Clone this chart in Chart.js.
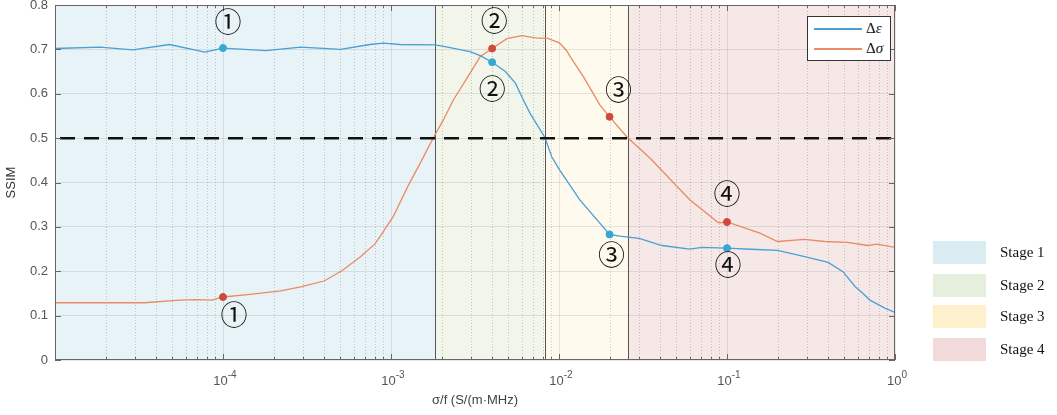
<!DOCTYPE html>
<html>
<head>
<meta charset="utf-8">
<script src="https://cdn.jsdelivr.net/npm/chart.js@4.4.1/dist/chart.umd.min.js"></script>
<style>
  html, body { margin: 0; padding: 0; background: #fff; }
  #wrap { position: relative; width: 1057px; height: 415px; }
  .lg { position: absolute; font-family: 'Liberation Serif', 'Times New Roman', serif; color: #111; }
  #seriesLegend { left: 807px; top: 16px; width: 84px; height: 45px; border: 1px solid #333; background: #fff; box-sizing: border-box; }
  .row { position: absolute; left: 6px; height: 20px; font-size: 15px; line-height: 20px; }
  .row span.ln { position: absolute; left: 0; top: 10px; width: 48px; height: 2px; }
  .row span.tx { position: absolute; left: 52px; top: 0; white-space: nowrap; }
  .sw { position: absolute; left: 933px; width: 53px; height: 23px; }
  .st { position: absolute; left: 1000px; font-size: 15px; line-height: 23px; }
</style>
</head>
<body>
<div id="wrap">
  <canvas id="ssimChart"></canvas>
  <div id="seriesLegend" class="lg">
    <div class="row" style="top:1px"><span class="ln" style="background:#4a9fd4"></span><span class="tx">Δ<i>ε</i></span></div>
    <div class="row" style="top:21px"><span class="ln" style="background:#ea8a62"></span><span class="tx">Δ<i>σ</i></span></div>
  </div>
  <div class="lg sw" style="top:241px;background:#daecf2"></div><div class="lg st" style="top:241px">Stage 1</div>
  <div class="lg sw" style="top:274px;background:#e6efdd"></div><div class="lg st" style="top:274px">Stage 2</div>
  <div class="lg sw" style="top:305px;background:#fdf0cc"></div><div class="lg st" style="top:305px">Stage 3</div>
  <div class="lg sw" style="top:338px;background:#f2dada"></div><div class="lg st" style="top:338px">Stage 4</div>
</div>
<script>
// delta epsilon curve
const epsX = [1e-5, 1.85e-5, 2.9e-5, 4.8e-5, 7.8e-5, 1e-4, 1.8e-4, 2.9e-4, 5e-4, 7.5e-4, 9e-4, 1.13e-3,
  1.83e-3, 2.1e-3, 2.95e-3, 3.4e-3, 4e-3, 4.8e-3, 5.5e-3, 6.1e-3, 6.7e-3, 8.26e-3, 9.05e-3, 1.01e-2,
  1.33e-2, 2e-2, 2.3e-2, 3e-2, 4.1e-2, 6e-2, 7.1e-2, 0.1, 0.15, 0.2, 0.29, 0.4, 0.49, 0.58, 0.64, 0.71, 0.87, 1];
const epsY = [0.702, 0.705, 0.699, 0.711, 0.694, 0.703, 0.697, 0.705, 0.700, 0.711, 0.714, 0.711,
  0.710, 0.706, 0.695, 0.686, 0.671, 0.650, 0.624, 0.588, 0.557, 0.501, 0.458, 0.428,
  0.361, 0.283, 0.279, 0.274, 0.258, 0.250, 0.254, 0.252, 0.249, 0.247, 0.233, 0.220, 0.199, 0.165, 0.151, 0.135, 0.117, 0.107];

// delta sigma curve
const sigX = [1e-5, 3.4e-5, 5.5e-5, 7e-5, 8.6e-5, 1e-4, 1.45e-4, 2.2e-4, 2.9e-4, 4e-4, 5.1e-4, 6.5e-4,
  8e-4, 8.6e-4, 1.03e-3, 1.27e-3, 1.49e-3, 1.8e-3, 2.05e-3, 2.35e-3, 2.95e-3, 3.4e-3, 4e-3, 4.9e-3,
  6e-3, 7.2e-3, 8.6e-3, 1.01e-2, 1.11e-2, 1.16e-2, 1.4e-2, 1.75e-2, 2e-2, 2.53e-2, 3.5e-2, 6e-2,
  8.9e-2, 0.1, 0.157, 0.2, 0.29, 0.38, 0.52, 0.69, 0.78, 1];
const sigY = [0.129, 0.129, 0.135, 0.136, 0.135, 0.142, 0.148, 0.156, 0.165, 0.178, 0.201, 0.231,
  0.261, 0.278, 0.323, 0.394, 0.443, 0.503, 0.541, 0.586, 0.646, 0.684, 0.702, 0.724,
  0.731, 0.726, 0.725, 0.714, 0.697, 0.685, 0.638, 0.575, 0.548, 0.503, 0.454, 0.361,
  0.309, 0.311, 0.286, 0.267, 0.272, 0.267, 0.265, 0.258, 0.261, 0.254];

// marked points
const markX = [1e-4, 4e-3, 2e-2, 0.1];
const markEps = [0.703, 0.671, 0.283, 0.252];
const markSig = [0.142, 0.702, 0.548, 0.311];
const markLabels = ['①', '②', '③', '④'];

const thresholdY = 0.5;
const stageBounds = [1e-5, 1.83e-3, 8.2e-3, 2.57e-2, 1];
const xDecades = [1e-4, 1e-3, 1e-2, 1e-1, 1];
const xDecadeExp = ['-4', '-3', '-2', '-1', '0'];

const colors = {
    eps: '#4a9fd4',
    sig: '#ea8a62',
    epsDot: '#35a8d4',
    sigDot: '#d04a3c',
    stages: ['#e8f3f7', '#f1f5ea', '#fefaee', '#f7e8e8'],
    grid: 'rgba(0,0,0,0.09)',
    minor: 'rgba(0,0,0,0.2)',
    axis: '#666',
    text: '#555',
};

// label offsets in px from the marker (dx, dy)
const epsLabelOff = [[5, -23], [0, 30], [2, 23], [1, 20]];
const sigLabelOff = [[11, 21], [2, -25], [9, -24], [0, -25]];

const xTickValues = [];
for (let e = -5; e < 0; e++) {
    for (let m = 1; m < 10; m++) xTickValues.push(m * Math.pow(10, e));
}
xTickValues.push(1);

const isMajor = v => Math.abs(Math.log10(v) - Math.round(Math.log10(v))) < 1e-6;
const pts = (xs, ys) => xs.map((x, i) => ({ x: x, y: ys[i] }));

const stagePlugin = {
    id: 'stages',
    beforeDraw(chart) {
        const { ctx, chartArea: a, scales: { x } } = chart;
        ctx.save();
        for (let i = 0; i < colors.stages.length; i++) {
            const x0 = x.getPixelForValue(stageBounds[i]);
            const x1 = x.getPixelForValue(stageBounds[i + 1]);
            ctx.fillStyle = colors.stages[i];
            ctx.fillRect(x0, a.top, x1 - x0, a.bottom - a.top);
        }
        // dotted minor grid
        ctx.strokeStyle = colors.minor;
        ctx.lineWidth = 1;
        ctx.setLineDash([1, 2]);
        xTickValues.forEach(v => {
            if (isMajor(v)) return;
            const px = Math.round(x.getPixelForValue(v)) + 0.5;
            ctx.beginPath();
            ctx.moveTo(px, a.top);
            ctx.lineTo(px, a.bottom);
            ctx.stroke();
        });
        ctx.restore();
    },
    beforeDatasetsDraw(chart) {
        const { ctx, chartArea: a, scales: { x } } = chart;
        ctx.save();
        ctx.strokeStyle = '#555';
        ctx.lineWidth = 1;
        for (let i = 1; i < stageBounds.length - 1; i++) {
            const px = Math.round(x.getPixelForValue(stageBounds[i])) + 0.5;
            ctx.beginPath();
            ctx.moveTo(px, a.top);
            ctx.lineTo(px, a.bottom);
            ctx.stroke();
        }
        ctx.restore();
    },
    afterDraw(chart) {
        const { ctx, chartArea: a, scales: { x, y } } = chart;
        ctx.save();
        // axes box with inward ticks
        ctx.strokeStyle = colors.axis;
        ctx.lineWidth = 1;
        ctx.strokeRect(a.left + 0.5, a.top + 0.5, a.right - a.left - 1, a.bottom - a.top - 1);
        ctx.beginPath();
        xTickValues.forEach(v => {
            const px = Math.round(x.getPixelForValue(v)) + 0.5;
            const len = isMajor(v) ? 6 : 3;
            ctx.moveTo(px, a.bottom);
            ctx.lineTo(px, a.bottom - len);
            ctx.moveTo(px, a.top);
            ctx.lineTo(px, a.top + len);
        });
        y.ticks.forEach(t => {
            const py = Math.round(y.getPixelForValue(t.value)) + 0.5;
            ctx.moveTo(a.left, py);
            ctx.lineTo(a.left + 6, py);
            ctx.moveTo(a.right, py);
            ctx.lineTo(a.right - 6, py);
        });
        ctx.stroke();

        // decade labels: 10 with raised exponent
        ctx.fillStyle = colors.text;
        ctx.textBaseline = 'alphabetic';
        xDecades.forEach((d, i) => {
            const px = x.getPixelForValue(d);
            ctx.font = "13px 'Liberation Sans', Arial, sans-serif";
            const wb = ctx.measureText('10').width;
            ctx.font = "10px 'Liberation Sans', Arial, sans-serif";
            const we = ctx.measureText(xDecadeExp[i]).width;
            const x0 = px - (wb + we) / 2 + 2;
            ctx.textAlign = 'left';
            ctx.font = "13px 'Liberation Sans', Arial, sans-serif";
            ctx.fillText('10', x0, a.bottom + 25);
            ctx.font = "10px 'Liberation Sans', Arial, sans-serif";
            ctx.fillText(xDecadeExp[i], x0 + wb, a.bottom + 18);
        });

        // circled point labels
        ctx.fillStyle = '#111';
        ctx.font = "27px 'Liberation Serif', 'DejaVu Serif', 'Noto Sans CJK JP', serif";
        ctx.textAlign = 'center';
        ctx.textBaseline = 'middle';
        markX.forEach((mx, i) => {
            const px = x.getPixelForValue(mx);
            ctx.fillText(markLabels[i], px + epsLabelOff[i][0], y.getPixelForValue(markEps[i]) + epsLabelOff[i][1]);
            ctx.fillText(markLabels[i], px + sigLabelOff[i][0], y.getPixelForValue(markSig[i]) + sigLabelOff[i][1]);
        });
        ctx.restore();
    }
};

Chart.defaults.font.family = "'Liberation Sans', Arial, sans-serif";
Chart.defaults.font.size = 13;
Chart.defaults.color = colors.text;

const ctx = document.getElementById('ssimChart').getContext('2d');

window.ssimChart = new Chart(ctx, {
    type: 'line',
    data: {
        datasets: [
            {
                label: 'Δε points',
                data: pts(markX, markEps),
                showLine: false,
                pointRadius: 3.5,
                pointBackgroundColor: colors.epsDot,
                pointBorderColor: colors.epsDot,
                order: 0
            },
            {
                label: 'Δσ points',
                data: pts(markX, markSig),
                showLine: false,
                pointRadius: 3.5,
                pointBackgroundColor: colors.sigDot,
                pointBorderColor: colors.sigDot,
                order: 0
            },
            {
                label: 'threshold',
                data: pts([1e-5, 1], [thresholdY, thresholdY]),
                borderColor: '#111',
                borderWidth: 2.5,
                borderDash: [15, 9],
                borderDashOffset: 19,
                pointRadius: 0,
                order: 1
            },
            {
                label: 'Δε',
                data: pts(epsX, epsY),
                borderColor: colors.eps,
                borderWidth: 1.3,
                pointRadius: 0,
                tension: 0,
                order: 2
            },
            {
                label: 'Δσ',
                data: pts(sigX, sigY),
                borderColor: colors.sig,
                borderWidth: 1.3,
                pointRadius: 0,
                tension: 0,
                order: 2
            }
        ]
    },
    options: {
        responsive: true,
        maintainAspectRatio: false,
        animation: false,
        layout: { padding: { left: 0, top: 5, right: 162, bottom: 0 } },
        scales: {
            x: {
                type: 'logarithmic',
                min: 1e-5,
                max: 1,
                afterBuildTicks: scale => {
                    scale.ticks = xTickValues.map(v => ({ value: v, major: isMajor(v) }));
                },
                afterFit: scale => {
                    scale.height = 55;
                    scale.paddingLeft = 0;
                    scale.paddingRight = 0;
                },
                grid: {
                    color: c => (c.tick && isMajor(c.tick.value)) ? colors.grid : 'rgba(0,0,0,0)',
                    drawTicks: false
                },
                border: { display: false },
                ticks: { display: false },
                title: {
                    display: true,
                    text: 'σ/f (S/(m·MHz)',
                    color: '#444',
                    padding: { top: 0, bottom: 7 }
                }
            },
            y: {
                min: 0,
                max: 0.8,
                afterFit: scale => {
                    scale.width = 55;
                    scale.paddingTop = 0;
                    scale.paddingBottom = 0;
                },
                grid: { color: colors.grid, drawTicks: false },
                border: { display: false },
                ticks: { stepSize: 0.1, padding: 7 },
                title: {
                    display: true,
                    text: 'SSIM',
                    color: '#333',
                    padding: { top: 4, bottom: 0 }
                }
            }
        },
        plugins: {
            legend: { display: false },
            tooltip: { enabled: false }
        }
    },
    plugins: [stagePlugin]
});
</script>
</body>
</html>
